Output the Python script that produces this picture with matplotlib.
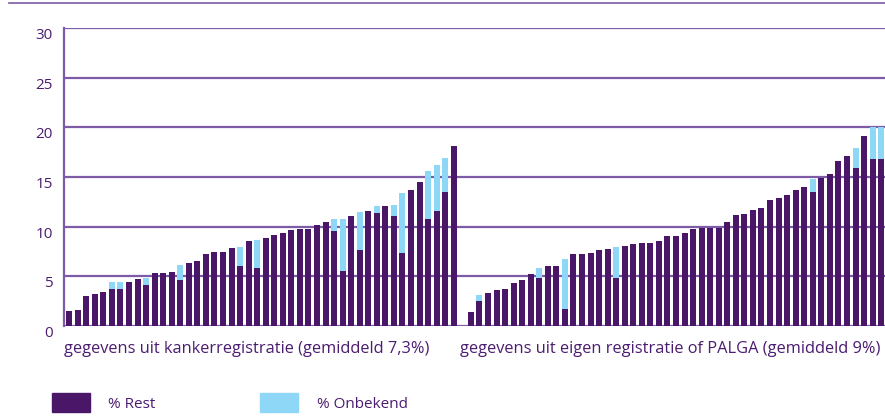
import numpy as np
import matplotlib
matplotlib.use("Agg")
import matplotlib.pyplot as plt
from matplotlib.patches import Rectangle

plt.rcParams['font.family'] = ['Open Sans', 'DejaVu Sans']

# % per ziekenhuis, gesorteerd per groep
kanker_rest = [1.5, 1.6, 3.0, 3.2, 3.4, 3.7, 3.7, 4.4, 4.7, 4.1,
               5.3, 5.3, 5.4, 4.6, 6.3, 6.5, 7.2, 7.4, 7.4, 7.9,
               6.0, 8.6, 5.8, 8.9, 9.2, 9.4, 9.7, 9.8, 9.8, 10.2,
               10.5, 9.6, 5.5, 11.1, 7.7, 11.6, 11.4, 12.1, 11.1, 7.3,
               13.7, 14.5, 10.8, 11.6, 13.5, 18.1]
kanker_onbekend = [0, 0, 0, 0, 0, 0.7, 0.7, 0, 0, 0.7,
                   0, 0, 0, 1.5, 0, 0, 0, 0, 0, 0,
                   2.0, 0, 2.9, 0, 0, 0, 0, 0, 0, 0,
                   0, 1.2, 5.3, 0, 3.8, 0, 0.7, 0, 1.1, 6.1,
                   0, 0, 4.8, 4.6, 3.4, 0]
palga_rest = [1.4, 2.5, 3.3, 3.6, 3.7, 4.3, 4.6, 5.2, 4.8, 6.0,
              6.0, 1.7, 7.2, 7.2, 7.3, 7.7, 7.8, 4.8, 8.1, 8.3,
              8.4, 8.4, 8.6, 9.1, 9.1, 9.4, 9.8, 9.9, 9.9, 9.9,
              10.5, 11.2, 11.3, 11.7, 11.9, 12.7, 12.9, 13.2, 13.7, 14.0,
              13.5, 14.9, 15.3, 16.6, 17.1, 15.9, 19.1, 16.8, 16.8]
palga_onbekend = [0, 0.6, 0, 0, 0, 0, 0, 0, 1.0, 0,
                  0, 5.0, 0, 0, 0, 0, 0, 3.2, 0, 0,
                  0, 0, 0, 0, 0, 0, 0, 0, 0, 0,
                  0, 0, 0, 0, 0, 0, 0, 0, 0, 0,
                  1.3, 0, 0, 0, 0, 2.0, 0, 3.2, 3.2]

groep_labels = ["gegevens uit kankerregistratie (gemiddeld 7,3%)",
                "gegevens uit eigen registratie of PALGA (gemiddeld 9%)"]
legend_labels = ["% Rest", "% Onbekend"]
yticks = [0, 5, 10, 15, 20, 25, 30]

paars = '#4a1768'
lichtblauw = '#8fd7f6'
lijn = '#7d5ba6'
tekst = '#4b1c70'

n1, n2 = len(kanker_rest), len(palga_rest)
x = np.concatenate([np.arange(n1), np.arange(n2) + n1 + 1])
rest = np.array(kanker_rest + palga_rest)
onb = np.array(kanker_onbekend + palga_onbekend)

W, H = 885, 416
fig = plt.figure(figsize=(W / 100, H / 100), dpi=100)
ax = fig.add_axes([64 / W, (H - 326) / H, (W - 64) / W, (326 - 28) / H])

for v in yticks:
    ax.axhline(v, color=lijn, lw=1.6, zorder=1)
ax.bar(x, rest, width=0.7, color=paars, zorder=2)
ax.bar(x, onb, width=0.7, bottom=rest, color=lichtblauw, zorder=2)

ax.set_xlim(-0.6, x[-1] + 0.45)
ax.set_ylim(0, 30)
for s in ['top', 'right', 'bottom']:
    ax.spines[s].set_visible(False)
ax.spines['left'].set_color(lijn)
ax.spines['left'].set_linewidth(1.6)
ax.set_xticks([])
ax.set_yticks(yticks)
ax.set_yticklabels([str(v) for v in yticks], color=tekst, fontsize=11, va='top')
ax.tick_params(axis='y', length=0, pad=8)

# groepslabels onder de staven
ax.text(0, -0.078, groep_labels[0], transform=ax.transAxes, color=tekst,
        fontsize=11.8, ha='left', va='center')
ax.text((460 - 64) / (W - 64), -0.078, groep_labels[1], transform=ax.transAxes,
        color=tekst, fontsize=11.8, ha='left', va='center')

# lijn bovenaan
fig.add_artist(plt.Line2D([9 / W, 1], [1 - 3 / H, 1 - 3 / H], color=lijn, lw=1.2))

# legenda
for (lx, tx), kleur, lab in zip([(52, 108), (260, 317)], [paars, lichtblauw], legend_labels):
    fig.add_artist(Rectangle((lx / W, (H - 412) / H), 38 / W, 19 / H,
                             transform=fig.transFigure, color=kleur))
    fig.text(tx / W, (H - 404) / H, lab, color=tekst, fontsize=11, va='center')

fig.savefig("out.png", dpi=100)
